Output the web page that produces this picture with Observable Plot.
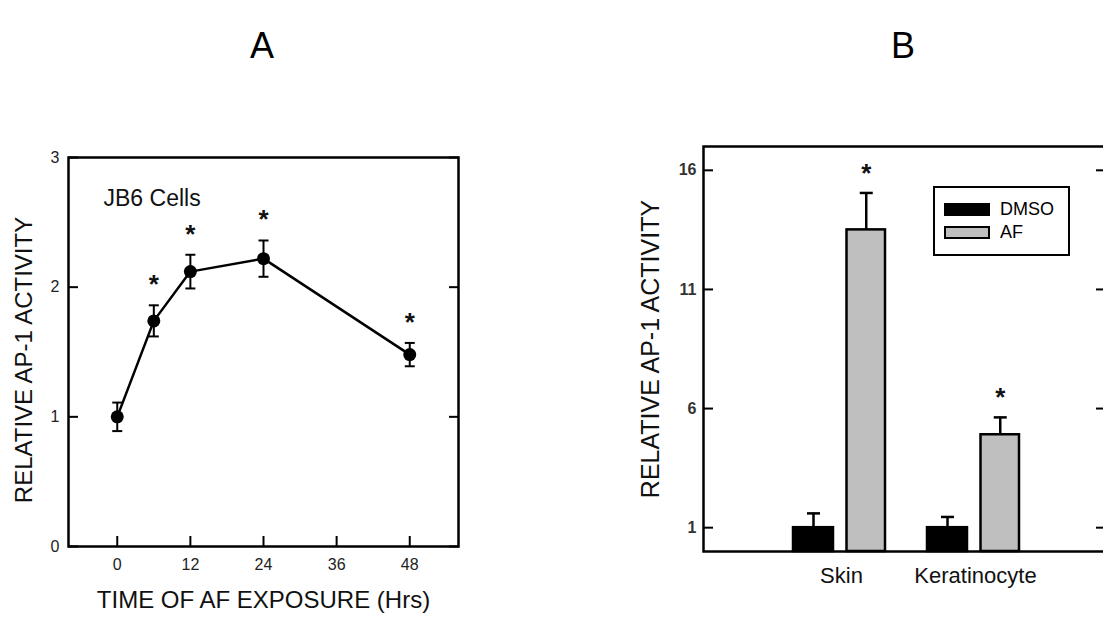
<!DOCTYPE html>
<html>
<head>
<meta charset="utf-8">
<script src="https://cdn.jsdelivr.net/npm/d3@7"></script>
<script src="https://cdn.jsdelivr.net/npm/@observablehq/plot@0.6"></script>
<style>
  html, body { margin: 0; padding: 0; background: #fff; overflow: hidden; }
  #wrap { position: relative; width: 1103px; height: 617px; overflow: hidden;
          font-family: "Liberation Sans", Arial, Helvetica, sans-serif; color: #000; }
  .panel { position: absolute; top: 0; }
  .letter { position: absolute; top: 28px; width: 60px; margin-left: -30px; text-align: center;
            font-size: 36px; line-height: 36px; }
  .legend { position: absolute; box-sizing: border-box; border: 2px solid #000; background: #fff; }
  .legend .item { position: absolute; left: 9px; height: 20px; display: flex; align-items: center; }
  .legend .sw { box-sizing: border-box; width: 46px; height: 13px; border: 2px solid #000; margin-right: 10px; }
  .legend .lab { font-size: 18px; line-height: 20px; }
</style>
</head>
<body>
<div id="wrap"></div>
<script>
// ---------- Panel A data ----------
const timesA = [0, 6, 12, 24, 48];
const meansA = [1.00, 1.74, 2.12, 2.22, 1.48];
const errsA  = [0.11, 0.12, 0.13, 0.14, 0.09];
const sigA   = [false, true, true, true, true];
const xTicksA = [0, 12, 24, 36, 48];
const yTicksA = [0, 1, 2, 3];
const xTitleA = "TIME OF AF EXPOSURE (Hrs)";
const yTitleA = "RELATIVE AP-1 ACTIVITY";
const noteA = "JB6 Cells";

// ---------- Panel B data ----------
const cellTypesB = ["Skin", "Keratinocyte"];
const treatmentsB = ["DMSO", "AF"];
const treatmentColorsB = ["#000000", "#bfbfbf"];
const dmsoB    = [1.0, 1.0];
const dmsoErrB = [0.6, 0.45];
const afB      = [13.5, 4.9];
const afErrB   = [1.55, 0.73];
const sigAfB   = [true, true];
const yTicksB  = [1, 6, 11, 16];
const yTitleB  = "RELATIVE AP-1 ACTIVITY";

const panelLetters = ["A", "B"];

const FONT = '"Liberation Sans", Arial, Helvetica, sans-serif';
const wrap = document.getElementById("wrap");

// horizontal cap symbol for error bars
const capSymbol = {
  draw(ctx, size) { const r = Math.sqrt(size / Math.PI); ctx.moveTo(-r, 0); ctx.lineTo(r, 0); }
};

// ---------- Panel A ----------
const dataA = timesA.map((t, i) => ({ t, m: meansA[i], e: errsA[i], sig: sigA[i] }));

const plotA = Plot.plot({
  width: 520, height: 617,
  marginLeft: 68, marginRight: 62, marginTop: 157, marginBottom: 71,
  style: { fontFamily: FONT, color: "#000", background: "transparent", overflow: "visible" },
  x: { domain: [-8, 56] },
  y: { domain: [0, 3] },
  marks: [
    Plot.axisX(xTicksA, { anchor: "bottom", tickSize: -10, strokeWidth: 2, fill: "none", label: null }),
    Plot.axisY(yTicksA, { anchor: "left", tickSize: -10, strokeWidth: 2, fill: "none", label: null }),
    Plot.axisY(yTicksA, { anchor: "right", tickSize: -10, strokeWidth: 2, fill: "none", label: null }),
    Plot.text(xTicksA, { x: d => d, text: d => String(d), frameAnchor: "bottom", dy: 18, textAnchor: "middle",
      lineAnchor: "middle", fontSize: 16, fill: "#222" }),
    Plot.text(yTicksA, { y: d => d, text: d => String(d), frameAnchor: "left", dx: -9, textAnchor: "end",
      lineAnchor: "middle", fontSize: 16, fill: "#222" }),
    Plot.frame({ stroke: "#000", strokeWidth: 2.5 }),
    Plot.ruleX(dataA, { x: "t", y1: d => d.m - d.e, y2: d => d.m + d.e, stroke: "#000", strokeWidth: 2 }),
    Plot.dot(dataA, { x: "t", y: d => d.m - d.e, symbol: capSymbol, r: 5, stroke: "#000", strokeWidth: 2, fill: "none" }),
    Plot.dot(dataA, { x: "t", y: d => d.m + d.e, symbol: capSymbol, r: 5, stroke: "#000", strokeWidth: 2, fill: "none" }),
    Plot.line(dataA, { x: "t", y: "m", stroke: "#000", strokeWidth: 2.5 }),
    Plot.dot(dataA, { x: "t", y: "m", r: 6.5, fill: "#000", stroke: "none" }),
    Plot.text(dataA.filter(d => d.sig), { x: "t", y: d => d.m + d.e, text: () => "*", dy: -12,
      fontSize: 26, fontWeight: "bold", lineAnchor: "bottom", fill: "#111" }),
    Plot.text([noteA], { frameAnchor: "top-left", dx: 35, dy: 41, textAnchor: "start", lineAnchor: "middle",
      fontSize: 23, fill: "#111" }),
    Plot.text([xTitleA], { frameAnchor: "bottom", dy: 54, textAnchor: "middle", lineAnchor: "middle", fontSize: 24, fill: "#111" }),
    Plot.text([yTitleA], { frameAnchor: "left", rotate: -90, dx: -44, dy: 8, textAnchor: "middle", lineAnchor: "middle", fontSize: 24, fill: "#111" })
  ]
});
plotA.classList.add("panel");
plotA.style.left = "0px";
wrap.appendChild(plotA);

// ---------- Panel B ----------
const dataB = cellTypesB.flatMap((c, i) => [
  { c, tr: treatmentsB[0], v: dmsoB[i], e: dmsoErrB[i], sig: false },
  { c, tr: treatmentsB[1], v: afB[i], e: afErrB[i], sig: sigAfB[i] }
]);
const offsetB = { DMSO: { insetLeft: 0, insetRight: 52, dx: -26 }, AF: { insetLeft: 53.5, insetRight: 0, dx: 26.75 } };

const barMarks = treatmentsB.flatMap(tr => {
  const rows = dataB.filter(d => d.tr === tr);
  const o = offsetB[tr];
  return [
    Plot.ruleX(rows, { x: "c", y1: "v", y2: d => d.v + d.e, dx: o.dx, stroke: "#000", strokeWidth: 2.5 }),
    Plot.dot(rows, { x: "c", y: d => d.v + d.e, dx: o.dx, symbol: capSymbol, r: 6.5, stroke: "#000", strokeWidth: 2.5, fill: "none" }),
    Plot.barY(rows, { x: "c", y: "v", fill: "tr", stroke: "#000", strokeWidth: 2.5,
      insetLeft: o.insetLeft, insetRight: o.insetRight }),
    Plot.text(rows.filter(d => d.sig), { x: "c", y: d => d.v + d.e, dx: o.dx, dy: -11, text: () => "*",
      fontSize: 26, fontWeight: "bold", lineAnchor: "bottom", fill: "#111" })
  ];
});

const plotB = Plot.plot({
  width: 510, height: 617,
  marginLeft: 103, marginRight: 5, marginTop: 146, marginBottom: 66,
  style: { fontFamily: FONT, color: "#000", background: "transparent", overflow: "visible" },
  x: { type: "band", domain: cellTypesB, range: [192.7, 419.3], paddingInner: 0.316, paddingOuter: 0, axis: null },
  y: { domain: [0, 17] },
  color: { domain: treatmentsB, range: treatmentColorsB },
  marks: [
    Plot.axisY(yTicksB, { anchor: "left", tickSize: -10, strokeWidth: 2, fill: "none", label: null }),
    Plot.axisY(yTicksB, { anchor: "right", tickSize: -10, strokeWidth: 2, fill: "none", label: null }),
    Plot.text(yTicksB, { y: d => d, text: d => String(d), frameAnchor: "left", dx: -7, textAnchor: "end",
      lineAnchor: "middle", fontSize: 16, fontWeight: "bold", fill: "#333" }),
    Plot.text(cellTypesB, { x: d => d, frameAnchor: "bottom", dy: 24, dx: 2, textAnchor: "middle", lineAnchor: "middle", fontSize: 22, fill: "#111" }),
    ...barMarks,
    Plot.frame({ stroke: "#000", strokeWidth: 2.5 }),
    Plot.text([yTitleB], { frameAnchor: "left", rotate: -90, dx: -53, textAnchor: "middle", lineAnchor: "middle", fontSize: 25, fill: "#111" })
  ]
});
plotB.classList.add("panel");
plotB.style.left = "600px";
wrap.appendChild(plotB);

// ---------- Legend (inside panel B) ----------
const legend = document.createElement("div");
legend.className = "legend";
Object.assign(legend.style, { left: "933px", top: "186px", width: "137px", height: "70px" });
treatmentsB.forEach((tr, i) => {
  const item = document.createElement("div");
  item.className = "item";
  item.style.top = (i === 0 ? 11 : 34) + "px";
  const sw = document.createElement("div");
  sw.className = "sw";
  sw.style.background = treatmentColorsB[i];
  const lab = document.createElement("span");
  lab.className = "lab";
  lab.textContent = tr;
  item.appendChild(sw); item.appendChild(lab);
  legend.appendChild(item);
});
wrap.appendChild(legend);

// ---------- Panel letters ----------
[262, 903].forEach((cx, i) => {
  const d = document.createElement("div");
  d.className = "letter";
  d.style.left = cx + "px";
  d.textContent = panelLetters[i];
  wrap.appendChild(d);
});
</script>
</body>
</html>
